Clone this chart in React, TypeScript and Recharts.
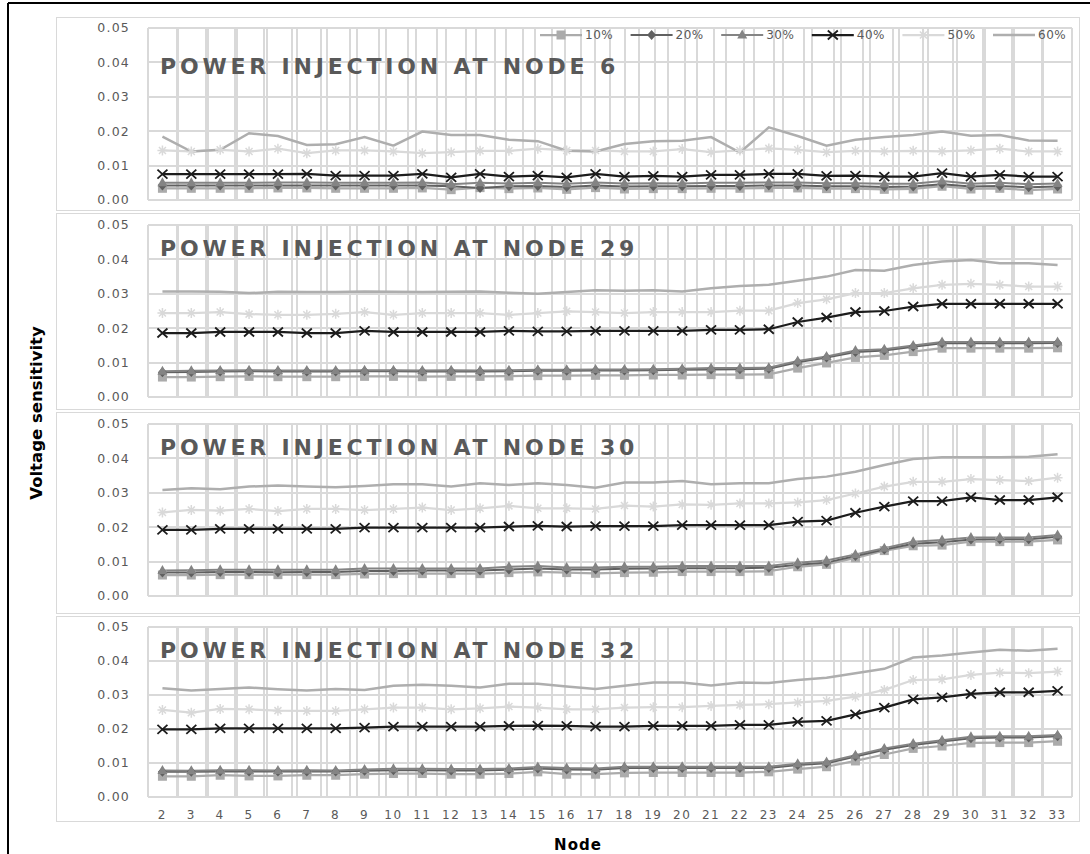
import React from "react";
import { LineChart, Line, XAxis, YAxis, Legend, ReferenceLine } from "recharts";

const NODES = [
  "2", "3", "4", "5", "6", "7", "8", "9", "10", "11", "12", "13", "14", "15", "16", "17",
  "18", "19", "20", "21", "22", "23", "24", "25", "26", "27", "28", "29", "30", "31", "32", "33",
];
const SERIES = ["10%", "20%", "30%", "40%", "50%", "60%"];
const Y_TICKS = [0, 0.01, 0.02, 0.03, 0.04, 0.05];
const INJECTION_NODES = ["6", "29", "30", "32"];

// power injection at node 6
const n6_10 = [0.0034, 0.0034, 0.0034, 0.0034, 0.0035, 0.0035, 0.0034, 0.0034, 0.0034, 0.0035, 0.003, 0.0036, 0.0033, 0.0035, 0.0031, 0.0036, 0.0032, 0.0033, 0.0033, 0.0034, 0.0034, 0.0035, 0.0035, 0.0033, 0.0033, 0.0031, 0.0032, 0.004, 0.0032, 0.0034, 0.0029, 0.0032];
const n6_20 = [0.0042, 0.0042, 0.0042, 0.0042, 0.0042, 0.0042, 0.0042, 0.0042, 0.0042, 0.0042, 0.004, 0.0035, 0.004, 0.0041, 0.0038, 0.0042, 0.0039, 0.004, 0.004, 0.0041, 0.0041, 0.0042, 0.0042, 0.004, 0.004, 0.0038, 0.0039, 0.0046, 0.0039, 0.0041, 0.0037, 0.0039];
const n6_30 = [0.005, 0.005, 0.005, 0.005, 0.0051, 0.0051, 0.005, 0.005, 0.005, 0.0051, 0.0046, 0.005, 0.0048, 0.005, 0.0047, 0.0051, 0.0048, 0.0049, 0.0048, 0.005, 0.005, 0.0051, 0.0051, 0.0049, 0.0049, 0.0047, 0.0047, 0.0055, 0.0047, 0.005, 0.0046, 0.0048];
const n6_40 = [0.0075, 0.0075, 0.0075, 0.0075, 0.0075, 0.0076, 0.0071, 0.0071, 0.0071, 0.0076, 0.0066, 0.0076, 0.0068, 0.0071, 0.0066, 0.0076, 0.0068, 0.007, 0.0068, 0.0073, 0.0073, 0.0076, 0.0076, 0.007, 0.0071, 0.0068, 0.0068, 0.0078, 0.0068, 0.0073, 0.0068, 0.0068];
const n6_50 = [0.0144, 0.0141, 0.0146, 0.0141, 0.0149, 0.0136, 0.0144, 0.0144, 0.0141, 0.0136, 0.0139, 0.0143, 0.0143, 0.0149, 0.0144, 0.0144, 0.0141, 0.0141, 0.0148, 0.0139, 0.0144, 0.015, 0.0146, 0.0139, 0.0143, 0.0141, 0.0143, 0.0141, 0.0144, 0.0149, 0.0141, 0.0141];
const n6_60 = [0.0184, 0.0141, 0.0146, 0.0194, 0.0186, 0.016, 0.0162, 0.0183, 0.0158, 0.0199, 0.0189, 0.0189, 0.0175, 0.0171, 0.0143, 0.0141, 0.0163, 0.0171, 0.0172, 0.0183, 0.0138, 0.0211, 0.0186, 0.0158, 0.0175, 0.0183, 0.0189, 0.0199, 0.0187, 0.0189, 0.0173, 0.0172];

// power injection at node 29
const n29_10 = [0.0058, 0.0058, 0.0059, 0.006, 0.0059, 0.0059, 0.0059, 0.006, 0.006, 0.0059, 0.006, 0.006, 0.0061, 0.0062, 0.0062, 0.0063, 0.0063, 0.0064, 0.0064, 0.0065, 0.0065, 0.0066, 0.0084, 0.0099, 0.0115, 0.0121, 0.0132, 0.0142, 0.0142, 0.0142, 0.0142, 0.0143];
const n29_20 = [0.0072, 0.0073, 0.0074, 0.0075, 0.0074, 0.0074, 0.0074, 0.0075, 0.0075, 0.0074, 0.0075, 0.0074, 0.0075, 0.0076, 0.0076, 0.0077, 0.0077, 0.0078, 0.0079, 0.008, 0.0081, 0.0082, 0.0101, 0.0115, 0.0131, 0.0135, 0.0146, 0.0156, 0.0156, 0.0156, 0.0156, 0.0157];
const n29_30 = [0.0075, 0.0076, 0.0077, 0.0078, 0.0077, 0.0077, 0.0077, 0.0078, 0.0078, 0.0077, 0.0078, 0.0077, 0.0078, 0.0079, 0.0079, 0.008, 0.008, 0.0081, 0.0082, 0.0084, 0.0084, 0.0085, 0.0105, 0.0118, 0.0135, 0.0139, 0.015, 0.016, 0.016, 0.016, 0.016, 0.016];
const n29_40 = [0.0186, 0.0186, 0.0189, 0.0189, 0.0189, 0.0186, 0.0186, 0.0192, 0.0189, 0.0189, 0.0189, 0.0189, 0.0192, 0.0191, 0.0191, 0.0192, 0.0192, 0.0192, 0.0192, 0.0195, 0.0195, 0.0197, 0.0218, 0.0231, 0.0247, 0.025, 0.0263, 0.0271, 0.0271, 0.0271, 0.0271, 0.0271];
const n29_50 = [0.0244, 0.0244, 0.0247, 0.0241, 0.0239, 0.0239, 0.0242, 0.0247, 0.0239, 0.0244, 0.0244, 0.0244, 0.0239, 0.0244, 0.0249, 0.0247, 0.0244, 0.0247, 0.0247, 0.0247, 0.0251, 0.0251, 0.0273, 0.0284, 0.0302, 0.0302, 0.0316, 0.0326, 0.0329, 0.0326, 0.0321, 0.0321];
const n29_60 = [0.0307, 0.0307, 0.0306, 0.0302, 0.0306, 0.0305, 0.0305, 0.0307, 0.0306, 0.0305, 0.0306, 0.0307, 0.0303, 0.03, 0.0305, 0.031, 0.0309, 0.031, 0.0307, 0.0316, 0.0323, 0.0326, 0.0338, 0.035, 0.0369, 0.0367, 0.0384, 0.0394, 0.0398, 0.0389, 0.0389, 0.0384];

// power injection at node 30
const n30_10 = [0.0061, 0.0061, 0.0062, 0.0062, 0.0062, 0.0062, 0.0062, 0.0064, 0.0065, 0.0065, 0.0065, 0.0065, 0.0068, 0.007, 0.0068, 0.0066, 0.0068, 0.0069, 0.0071, 0.0071, 0.0071, 0.0072, 0.0085, 0.0092, 0.0111, 0.0132, 0.0146, 0.0148, 0.0158, 0.0158, 0.0158, 0.0163];
const n30_20 = [0.0068, 0.0068, 0.007, 0.007, 0.0069, 0.007, 0.007, 0.0073, 0.0073, 0.0074, 0.0074, 0.0074, 0.0077, 0.008, 0.0077, 0.0077, 0.0079, 0.008, 0.0081, 0.0081, 0.0081, 0.0082, 0.0091, 0.0097, 0.0116, 0.0135, 0.0152, 0.0156, 0.0164, 0.0165, 0.0165, 0.0172];
const n30_30 = [0.0074, 0.0075, 0.0076, 0.0076, 0.0076, 0.0076, 0.0076, 0.008, 0.008, 0.008, 0.008, 0.008, 0.0085, 0.0087, 0.0083, 0.0083, 0.0085, 0.0085, 0.0087, 0.0087, 0.0087, 0.0087, 0.0097, 0.0103, 0.0121, 0.0139, 0.0158, 0.0163, 0.017, 0.017, 0.017, 0.0177];
const n30_40 = [0.0192, 0.0192, 0.0195, 0.0195, 0.0195, 0.0195, 0.0195, 0.0199, 0.0199, 0.0199, 0.0199, 0.0199, 0.0202, 0.0204, 0.0202, 0.0203, 0.0203, 0.0203, 0.0206, 0.0206, 0.0206, 0.0206, 0.0216, 0.0219, 0.0242, 0.026, 0.0276, 0.0276, 0.0287, 0.0279, 0.0279, 0.0287];
const n30_50 = [0.0243, 0.025, 0.0248, 0.0253, 0.0247, 0.0253, 0.0253, 0.025, 0.0253, 0.0257, 0.025, 0.0255, 0.0262, 0.0255, 0.0255, 0.0253, 0.0263, 0.026, 0.0266, 0.0265, 0.0269, 0.0269, 0.0272, 0.0279, 0.0298, 0.0318, 0.0332, 0.0332, 0.034, 0.0337, 0.0334, 0.0344];
const n30_60 = [0.0308, 0.0313, 0.031, 0.0318, 0.0321, 0.0318, 0.0316, 0.032, 0.0325, 0.0325, 0.0318, 0.0328, 0.0323, 0.0328, 0.0323, 0.0315, 0.033, 0.033, 0.0334, 0.0325, 0.0328, 0.0328, 0.034, 0.0347, 0.0361, 0.0381, 0.0398, 0.0403, 0.0403, 0.0403, 0.0405, 0.0412];

// power injection at node 32
const n32_10 = [0.0061, 0.0061, 0.0064, 0.0062, 0.0062, 0.0064, 0.0064, 0.0067, 0.0069, 0.0069, 0.0067, 0.0067, 0.0069, 0.0074, 0.0067, 0.0067, 0.0071, 0.0072, 0.0072, 0.0072, 0.0072, 0.0074, 0.0082, 0.0089, 0.0106, 0.0125, 0.0143, 0.015, 0.0159, 0.016, 0.016, 0.0164];
const n32_20 = [0.0074, 0.0074, 0.0075, 0.0075, 0.0075, 0.0075, 0.0075, 0.0077, 0.0079, 0.0079, 0.0078, 0.0078, 0.008, 0.0084, 0.0081, 0.008, 0.0085, 0.0085, 0.0085, 0.0085, 0.0085, 0.0085, 0.0094, 0.0099, 0.0119, 0.0139, 0.0153, 0.0163, 0.0173, 0.0175, 0.0175, 0.0179];
const n32_30 = [0.0078, 0.0077, 0.0079, 0.0079, 0.0078, 0.0079, 0.0078, 0.0081, 0.0083, 0.0083, 0.0082, 0.0082, 0.0084, 0.0088, 0.0085, 0.0084, 0.0089, 0.0089, 0.0089, 0.0089, 0.0089, 0.0089, 0.0098, 0.0103, 0.0123, 0.0143, 0.0157, 0.0167, 0.0177, 0.0179, 0.0179, 0.0182];
const n32_40 = [0.0199, 0.0199, 0.0202, 0.0202, 0.0202, 0.0202, 0.0202, 0.0204, 0.0207, 0.0207, 0.0207, 0.0207, 0.0209, 0.021, 0.0209, 0.0207, 0.0207, 0.0209, 0.0209, 0.0209, 0.0212, 0.0212, 0.0221, 0.0224, 0.0243, 0.0263, 0.0287, 0.0293, 0.0303, 0.0308, 0.0308, 0.0312];
const n32_50 = [0.0256, 0.0248, 0.0259, 0.0258, 0.0254, 0.0253, 0.0253, 0.0258, 0.0263, 0.0263, 0.0258, 0.0261, 0.0266, 0.0263, 0.0258, 0.0258, 0.0263, 0.0264, 0.0264, 0.0268, 0.0271, 0.0273, 0.0278, 0.0283, 0.0295, 0.0315, 0.0344, 0.0346, 0.0359, 0.0366, 0.0364, 0.0369];
const n32_60 = [0.032, 0.0313, 0.0318, 0.0322, 0.0317, 0.0313, 0.0318, 0.0315, 0.0327, 0.033, 0.0327, 0.0322, 0.0333, 0.0333, 0.0325, 0.0318, 0.0327, 0.0337, 0.0337, 0.0328, 0.0337, 0.0335, 0.0344, 0.0351, 0.0364, 0.0377, 0.041, 0.0416, 0.0425, 0.0433, 0.043, 0.0436];

const PANEL_SERIES = [
  [n6_10, n6_20, n6_30, n6_40, n6_50, n6_60],
  [n29_10, n29_20, n29_30, n29_40, n29_50, n29_60],
  [n30_10, n30_20, n30_30, n30_40, n30_50, n30_60],
  [n32_10, n32_20, n32_30, n32_40, n32_50, n32_60],
];

const KEYS = ["s10", "s20", "s30", "s40", "s50", "s60"];
const COLORS = ["#ABABAB", "#606060", "#848484", "#1C1C1C", "#D9D9D9", "#AEAEAE"];
const WIDTHS = [2.25, 2, 2, 2.25, 2.25, 2.5];
const MARKERS = ["square", "diamond", "triangle", "x", "star", null];

// category boundaries for the vertical gridlines (Excel draws them between the nodes)
const GRID_BOUNDS = Array.from({ length: NODES.length + 1 }, (_, i) => i);

// layout (page pixels)
const BOX_LEFT = 56;
const BOX_W = 1024;
const PLOT_LEFT = 148;
const PLOT_RIGHT = 1072;
const PANELS = [
  { top: 17, bottom: 211, plotTop: 28, plotBottom: 200, titleY: 74 },
  { top: 213, bottom: 410, plotTop: 225, plotBottom: 397, titleY: 256 },
  { top: 412, bottom: 614, plotTop: 424, plotBottom: 596, titleY: 455 },
  { top: 616, bottom: 822, plotTop: 627, plotBottom: 797, titleY: 658 },
];
const X_AXIS_H = 25;
const GRID = "#D9D9D9";
const GREY_TEXT = "#595959";
const TICK_FONT = "'DejaVu Sans', Verdana, sans-serif";

const band = (PLOT_RIGHT - PLOT_LEFT) / NODES.length;

function Marker({ kind, cx, cy, color }: { kind: string; cx: number; cy: number; color: string }) {
  switch (kind) {
    case "square":
      return <rect x={cx - 4.5} y={cy - 4.5} width={9} height={9} fill={color} />;
    case "diamond":
      return <path d={`M${cx},${cy - 5}L${cx + 4.5},${cy}L${cx},${cy + 5}L${cx - 4.5},${cy}Z`} fill={color} />;
    case "triangle":
      return <path d={`M${cx},${cy - 5.5}L${cx + 5},${cy + 3.5}L${cx - 5},${cy + 3.5}Z`} fill={color} />;
    case "x":
      return (
        <path
          d={`M${cx - 5},${cy - 4.5}L${cx + 5},${cy + 4.5}M${cx - 5},${cy + 4.5}L${cx + 5},${cy - 4.5}`}
          stroke={color}
          strokeWidth={1.8}
          fill="none"
        />
      );
    case "star":
      return (
        <path
          d={`M${cx - 5},${cy}L${cx + 5},${cy}M${cx},${cy - 5}L${cx},${cy + 5}M${cx - 3.5},${cy - 3.5}L${cx + 3.5},${cy + 3.5}M${cx - 3.5},${cy + 3.5}L${cx + 3.5},${cy - 3.5}`}
          stroke={color}
          strokeWidth={1.5}
          fill="none"
        />
      );
    default:
      return null;
  }
}

function LegendRow() {
  return (
    <svg width={560} height={20} style={{ overflow: "visible", display: "block" }}>
      {SERIES.map((name, i) => {
        const x0 = i * 90.6;
        return (
          <g key={name}>
            <line x1={x0} x2={x0 + 42} y1={10} y2={10} stroke={COLORS[i]} strokeWidth={WIDTHS[i]} />
            {MARKERS[i] && <Marker kind={MARKERS[i] as string} cx={x0 + 21} cy={10} color={COLORS[i]} />}
            <text x={x0 + 45} y={10} dy="0.355em" fontSize={12} fontFamily={TICK_FONT} fill={GREY_TEXT} letterSpacing={0.5}>
              {name}
            </text>
          </g>
        );
      })}
    </svg>
  );
}

// plot-area grid drawn behind the chart (same positions as the axis ticks)
function PanelGrid({ width, height, top, bottom }: { width: number; height: number; top: number; bottom: number }) {
  const left = PLOT_LEFT - BOX_LEFT;
  const right = PLOT_RIGHT - BOX_LEFT;
  const step = (bottom - top) / (Y_TICKS.length - 1);
  return (
    <svg width={width} height={height} style={{ position: "absolute", left: 0, top: 0 }}>
      {Y_TICKS.map((_, k) => (
        <line
          key={`h${k}`}
          x1={left}
          x2={right}
          y1={top + k * step}
          y2={top + k * step}
          stroke={GRID}
          strokeWidth={2}
          shapeRendering="crispEdges"
        />
      ))}
      {GRID_BOUNDS.map((b) => (
        <line
          key={`v${b}`}
          x1={left + b * band}
          x2={left + b * band}
          y1={top}
          y2={bottom}
          stroke={GRID}
          strokeWidth={2}
          shapeRendering="crispEdges"
        />
      ))}
    </svg>
  );
}

function Panel({ index }: { index: number }) {
  const p = PANELS[index];
  const showX = index === PANELS.length - 1;
  const h = p.bottom - p.top;
  const series = PANEL_SERIES[index];
  const data = NODES.map((node, i) => {
    const row: Record<string, string | number> = { node };
    KEYS.forEach((k, s) => (row[k] = series[s][i]));
    return row;
  });

  return (
    <div style={{ position: "absolute", left: BOX_LEFT, top: p.top, width: BOX_W, height: h }}>
      <div style={{ position: "absolute", inset: 0, border: `1px solid ${GRID}`, boxSizing: "border-box" }} />
      <PanelGrid width={BOX_W} height={h} top={p.plotTop - p.top} bottom={p.plotBottom - p.top} />
      <div style={{ position: "absolute", left: 0, top: 0 }}>
        <LineChart
          width={BOX_W}
          height={h}
          data={data}
          margin={{
            top: p.plotTop - p.top,
            right: BOX_LEFT + BOX_W - PLOT_RIGHT,
            left: 0,
            bottom: p.bottom - p.plotBottom - (showX ? X_AXIS_H : 0),
          }}
        >
          <XAxis xAxisId="grid" type="number" domain={[0, NODES.length]} ticks={GRID_BOUNDS} hide />
          <XAxis
            dataKey="node"
            type="category"
            scale="point"
            interval={0}
            hide={!showX}
            height={X_AXIS_H}
            padding={{ left: band / 2, right: band / 2 }}
            axisLine={false}
            tickLine={false}
            tickSize={0}
            tickMargin={13}
            tick={{ fontSize: 12, fill: GREY_TEXT, fontFamily: TICK_FONT, letterSpacing: 1.5 }}
          />
          <YAxis
            domain={[0, 0.05]}
            ticks={Y_TICKS}
            width={PLOT_LEFT - BOX_LEFT}
            axisLine={false}
            tickLine={false}
            tickSize={0}
            tickMargin={18}
            tickFormatter={(v: number) => v.toFixed(2)}
            tick={{ fontSize: 12.5, fill: GREY_TEXT, fontFamily: TICK_FONT, letterSpacing: 1.2 }}
          />
          {Y_TICKS.map((v) => (
            <ReferenceLine key={`h${v}`} y={v} stroke={GRID} strokeWidth={2} shapeRendering="crispEdges" ifOverflow="visible" />
          ))}
          {GRID_BOUNDS.map((b) => (
            <ReferenceLine
              key={`v${b}`}
              xAxisId="grid"
              x={b}
              stroke={GRID}
              strokeWidth={2}
              shapeRendering="crispEdges"
              ifOverflow="visible"
            />
          ))}
          {index === 0 && (
            <Legend
              layout="horizontal"
              verticalAlign="middle"
              align="center"
              content={() => <LegendRow />}
              wrapperStyle={{ top: 8, left: 484, width: 560, height: 20 }}
            />
          )}
          {KEYS.map((k, s) => (
            <Line
              key={k}
              name={SERIES[s]}
              type="linear"
              dataKey={k}
              stroke={COLORS[s]}
              strokeWidth={WIDTHS[s]}
              activeDot={false}
              isAnimationActive={false}
              dot={
                MARKERS[s]
                  ? (d: any) => (
                      <Marker key={`${k}-${d.index}`} kind={MARKERS[s] as string} cx={d.cx} cy={d.cy} color={COLORS[s]} />
                    )
                  : false
              }
            />
          ))}
        </LineChart>
      </div>
    </div>
  );
}

export default function App() {
  return (
    <div
      style={{
        position: "absolute",
        left: 0,
        top: 0,
        width: 1090,
        height: 854,
        background: "#fff",
        overflow: "hidden",
      }}
    >
      {PANELS.map((_, i) => (
        <Panel key={i} index={i} />
      ))}
      <svg width={1090} height={854} style={{ position: "absolute", left: 0, top: 0, pointerEvents: "none" }}>
        <line x1={8} y1={3} x2={1090} y2={3} stroke="#000" strokeWidth={2} />
        <line x1={8} y1={3} x2={8} y2={854} stroke="#000" strokeWidth={2} />
        {PANELS.map((p, i) => (
          <text
            key={i}
            x={160}
            y={p.titleY}
            fontSize={22}
            fontWeight="bold"
            fontFamily={TICK_FONT}
            fill={GREY_TEXT}
            letterSpacing={3.8}
          >
            {`POWER INJECTION AT NODE ${INJECTION_NODES[i]}`}
          </text>
        ))}
        <text
          transform="translate(36,413) rotate(-90)"
          textAnchor="middle"
          dominantBaseline="central"
          fontSize={16.5}
          fontWeight="bold"
          fontFamily="'DejaVu Sans', sans-serif"
          fill="#000"
        >
          Voltage sensitivity
        </text>
        <text
          x={578}
          y={845}
          textAnchor="middle"
          dominantBaseline="central"
          fontSize={15}
          fontWeight="bold"
          fontFamily={TICK_FONT}
          fill="#000"
          letterSpacing={1}
        >
          Node
        </text>
      </svg>
    </div>
  );
}
